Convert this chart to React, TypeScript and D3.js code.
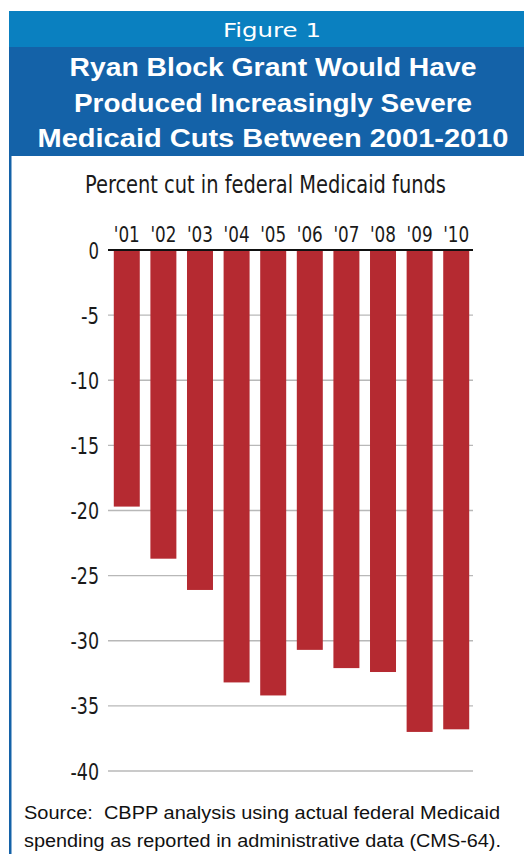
import React from "react";
import * as d3 from "d3";

const years = ["'01", "'02", "'03", "'04", "'05", "'06", "'07", "'08", "'09", "'10"];
const cuts = [-19.7, -23.7, -26.1, -33.2, -34.2, -30.7, -32.1, -32.4, -37.0, -36.8];
const yTicks = [0, -5, -10, -15, -20, -25, -30, -35, -40];
const titleLines = [
  "Ryan Block Grant Would Have",
  "Produced Increasingly Severe",
  "Medicaid Cuts Between 2001-2010",
];
const titleWidths = [407, 398, 471];
const sourceLines = [
  "Source:  CBPP analysis using actual federal Medicaid",
  "spending as reported in administrative data (CMS-64).",
];
const sourceWidths = [476, 477];

const W = 524;
const H = 854;
const condensed = "'DejaVu Sans Condensed', 'DejaVu Sans', sans-serif";

export default function App() {
  const x = d3.scaleBand<string>().domain(years).range([105, 478]).paddingInner(0.29).paddingOuter(0.24);
  const y = d3.scaleLinear().domain([0, -40]).range([250, 771]);
  const gridX0 = 108;
  const gridX1 = 473;

  const tickLabel = (t: number) => (t === 0 ? "0" : `-${Math.abs(t)}`);
  const tickWidth = (s: string) => s.replace("-", "").length * 10.5 + (s.startsWith("-") ? 7.5 : 0);

  return (
    <svg
      width={W}
      height={H}
      style={{ position: "absolute", left: 0, top: 0, background: "#fff" }}
    >
      <rect x={9} y={11} width={W - 9} height={36} fill="#0a80c0" />
      <rect x={9} y={47} width={W - 9} height={109} fill="#1462a8" />
      <rect x={9} y={156} width={2.5} height={H - 156} fill="#1462a8" />
      <text
        x={272}
        y={37}
        textAnchor="middle"
        fill="#fff"
        fontFamily="'DejaVu Sans', sans-serif"
        fontSize={20}
        textLength={98}
        lengthAdjust="spacingAndGlyphs"
      >
        Figure 1
      </text>
      {titleLines.map((t, i) => (
        <text
          key={t}
          x={273}
          y={76 + i * 35.5}
          textAnchor="middle"
          fill="#fff"
          fontFamily="'Liberation Sans', Arial, sans-serif"
          fontWeight="bold"
          fontSize={25.5}
          textLength={titleWidths[i]}
          lengthAdjust="spacingAndGlyphs"
        >
          {t}
        </text>
      ))}
      <text
        x={85}
        y={193}
        fill="#1a1a1a"
        fontFamily={condensed}
        fontStretch="condensed"
        fontSize={25}
        textLength={361}
        lengthAdjust="spacingAndGlyphs"
      >
        Percent cut in federal Medicaid funds
      </text>
      {yTicks.map((t) => (
        <g key={t}>
          {t !== 0 && (
            <line x1={gridX0} x2={gridX1} y1={y(t)} y2={y(t)} stroke="#b8b8b8" strokeWidth={1.3} />
          )}
          <text
            x={99}
            y={y(t) + 8.5}
            textAnchor="end"
            fill="#1a1a1a"
            fontFamily={condensed}
            fontStretch="condensed"
            fontSize={23}
            textLength={tickWidth(tickLabel(t))}
            lengthAdjust="spacingAndGlyphs"
          >
            {tickLabel(t)}
          </text>
        </g>
      ))}
      {years.map((yr, i) => (
        <g key={yr}>
          <rect
            x={x(yr)}
            y={y(0)}
            width={x.bandwidth()}
            height={y(cuts[i]) - y(0)}
            fill="#b52a31"
          />
          <text
            x={(x(yr) as number) + x.bandwidth() / 2}
            y={242}
            textAnchor="middle"
            fill="#1a1a1a"
            fontFamily={condensed}
            fontStretch="condensed"
            fontSize={22}
            textLength={26}
            lengthAdjust="spacingAndGlyphs"
          >
            {yr}
          </text>
        </g>
      ))}
      <line x1={gridX0} x2={gridX1} y1={y(0)} y2={y(0)} stroke="#111" strokeWidth={2} />
      {sourceLines.map((s, i) => (
        <text
          key={s}
          x={24}
          y={819 + i * 28}
          fill="#111"
          fontFamily="'Liberation Sans', Arial, sans-serif"
          fontSize={17.5}
          textLength={sourceWidths[i]}
          lengthAdjust="spacingAndGlyphs"
          style={{ whiteSpace: "pre" }}
        >
          {s}
        </text>
      ))}
    </svg>
  );
}
